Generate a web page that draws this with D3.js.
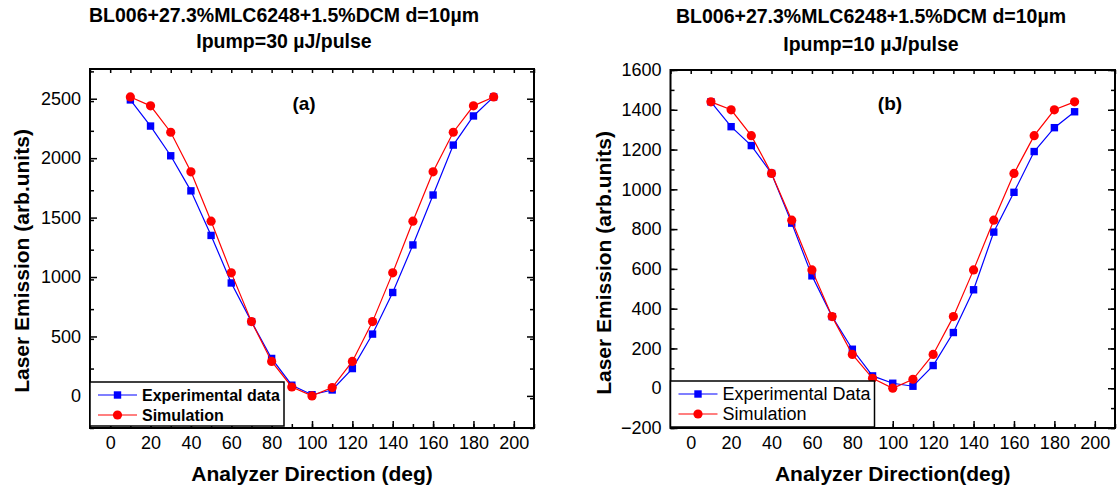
<!DOCTYPE html>
<html>
<head>
<meta charset="utf-8">
<script src="https://cdn.jsdelivr.net/npm/d3@7"></script>
<style>
  body { margin: 0; background: #fff; }
  svg { display: block; font-family: Arial, 'Liberation Sans', sans-serif; }
</style>
</head>
<body>
<div id="chart"></div>
<script>
// Data
const angles = [10, 20, 30, 40, 50, 60, 70, 80, 90, 100, 110, 120, 130, 140, 150, 160, 170, 180, 190];

// (a) Ipump = 30 uJ/pulse
const expA = [2490, 2270, 2020, 1725, 1350, 950, 625, 315, 90, 10, 50, 230, 520, 870, 1270, 1690, 2110, 2355, 2515];
const simA = [2515, 2440, 2218, 1885, 1470, 1035, 625, 290, 75, 0, 70, 290, 625, 1035, 1470, 1885, 2218, 2440, 2515];

// (b) Ipump = 10 uJ/pulse
const expB = [1440, 1315, 1220, 1080, 830, 565, 360, 196, 62, 25, 10, 114, 280, 495, 785, 985, 1190, 1310, 1390];
const simB = [1440, 1400, 1270, 1080, 845, 595, 360, 170, 50, 0, 45, 170, 360, 595, 845, 1080, 1270, 1400, 1440];

const xTicks = [0, 20, 40, 60, 80, 100, 120, 140, 160, 180, 200];
const yTicksA = [0, 500, 1000, 1500, 2000, 2500];
const yTicksB = [-200, 0, 200, 400, 600, 800, 1000, 1200, 1400, 1600];

const width = 1119;
const height = 496;

const svg = d3.select('#chart')
    .append('svg')
    .attr('width', width)
    .attr('height', height);

// Draw one panel
function drawPanel(cfg) {
    const x = d3.scaleLinear().domain([-10, 210]).range([cfg.left, cfg.right]);
    const y = d3.scaleLinear().domain(cfg.yDomain).range([cfg.bottom, cfg.top]);

    const g = svg.append('g');

    // minor ticks, inward on all four sides
    const xMinor = d3.range(-10, 211, 10);
    const yMinor = d3.range(cfg.yDomain[0], cfg.yDomain[1] + 1, cfg.yMinorStep)
        .filter(v => v >= cfg.yDomain[0] && v <= cfg.yDomain[1]);

    g.append('g')
        .attr('transform', `translate(0,${cfg.bottom})`)
        .call(d3.axisBottom(x).tickValues(xMinor).tickSizeInner(-4).tickSizeOuter(0).tickFormat(''))
        .call(a => a.select('.domain').remove());
    g.append('g')
        .attr('transform', `translate(0,${cfg.top})`)
        .call(d3.axisTop(x).tickValues(xMinor).tickSizeInner(-4).tickSizeOuter(0).tickFormat(''))
        .call(a => a.select('.domain').remove());
    g.append('g')
        .attr('transform', `translate(${cfg.left},0)`)
        .call(d3.axisLeft(y).tickValues(yMinor).tickSizeInner(-4).tickSizeOuter(0).tickFormat(''))
        .call(a => a.select('.domain').remove());
    g.append('g')
        .attr('transform', `translate(${cfg.right},0)`)
        .call(d3.axisRight(y).tickValues(yMinor).tickSizeInner(-4).tickSizeOuter(0).tickFormat(''))
        .call(a => a.select('.domain').remove());

    // major ticks with labels
    g.append('g')
        .attr('transform', `translate(0,${cfg.bottom})`)
        .call(d3.axisBottom(x).tickValues(xTicks).tickSizeInner(-7).tickSizeOuter(0).tickPadding(8).tickFormat(d3.format('d')))
        .call(a => a.select('.domain').remove())
        .selectAll('text')
        .attr('font-size', 18)
        .attr('font-family', 'Arial, Liberation Sans, sans-serif')
        .attr('fill', '#000');
    g.append('g')
        .attr('transform', `translate(${cfg.left},0)`)
        .call(d3.axisLeft(y).tickValues(cfg.yTicks).tickSizeInner(-7).tickSizeOuter(0).tickPadding(9).tickFormat(d3.format('d')))
        .call(a => a.select('.domain').remove())
        .selectAll('text')
        .attr('font-size', 18)
        .attr('font-family', 'Arial, Liberation Sans, sans-serif')
        .attr('fill', '#000');
    g.append('g')
        .attr('transform', `translate(${cfg.right},0)`)
        .call(d3.axisRight(y).tickValues(cfg.yTicks).tickSizeInner(-7).tickSizeOuter(0).tickFormat(''))
        .call(a => a.select('.domain').remove());
    g.selectAll('.tick line').attr('stroke', '#000').attr('stroke-width', 1.5);

    // frame
    g.append('rect')
        .attr('x', cfg.left)
        .attr('y', cfg.top)
        .attr('width', cfg.right - cfg.left)
        .attr('height', cfg.bottom - cfg.top)
        .attr('fill', 'none')
        .attr('stroke', '#000')
        .attr('stroke-width', 2);

    const line = d3.line().x((d, i) => x(angles[i])).y(d => y(d));

    // experimental data
    g.append('path')
        .datum(cfg.exp)
        .attr('d', line)
        .attr('fill', 'none')
        .attr('stroke', '#0000ff')
        .attr('stroke-width', 1.2);
    g.selectAll('.sq')
        .data(cfg.exp)
        .enter()
        .append('rect')
        .attr('x', (d, i) => x(angles[i]) - 3.7)
        .attr('y', d => y(d) - 3.7)
        .attr('width', 7.4)
        .attr('height', 7.4)
        .attr('fill', '#0000ff');

    // simulation
    g.append('path')
        .datum(cfg.sim)
        .attr('d', line)
        .attr('fill', 'none')
        .attr('stroke', '#ff0000')
        .attr('stroke-width', 1.2);
    g.selectAll('.ci')
        .data(cfg.sim)
        .enter()
        .append('circle')
        .attr('cx', (d, i) => x(angles[i]))
        .attr('cy', d => y(d))
        .attr('r', 4.6)
        .attr('fill', '#ff0000');

    // panel letter
    g.append('text')
        .attr('x', cfg.letterX)
        .attr('y', 110)
        .attr('text-anchor', 'middle')
        .attr('font-size', 19)
        .attr('font-weight', 'bold')
        .text(cfg.letter);

    // legend
    const lg = g.append('g');
    lg.append('rect')
        .attr('x', cfg.left)
        .attr('y', cfg.legend.y0)
        .attr('width', cfg.legend.w)
        .attr('height', cfg.legend.y1 - cfg.legend.y0)
        .attr('fill', '#fff')
        .attr('stroke', '#000')
        .attr('stroke-width', 1.5);
    const rows = [
        {label: cfg.legend.labels[0], color: '#0000ff', shape: 'sq', yy: cfg.legend.y0 + 13},
        {label: cfg.legend.labels[1], color: '#ff0000', shape: 'ci', yy: cfg.legend.y0 + 33}
    ];
    rows.forEach(r => {
        lg.append('line')
            .attr('x1', cfg.left + 8).attr('x2', cfg.left + 47)
            .attr('y1', r.yy).attr('y2', r.yy)
            .attr('stroke', r.color).attr('stroke-width', 1.2);
        if (r.shape === 'sq') {
            lg.append('rect')
                .attr('x', cfg.left + 27.5 - 3.7).attr('y', r.yy - 3.7)
                .attr('width', 7.4).attr('height', 7.4)
                .attr('fill', r.color);
        } else {
            lg.append('circle')
                .attr('cx', cfg.left + 27.5).attr('cy', r.yy).attr('r', 4.6)
                .attr('fill', r.color);
        }
        lg.append('text')
            .attr('x', cfg.left + 52)
            .attr('y', r.yy + 6)
            .attr('font-size', cfg.legend.fontSize)
            .attr('font-weight', cfg.legend.weight)
            .text(r.label);
    });

    // titles
    cfg.title.forEach((t, i) => {
        g.append('text')
            .attr('x', cfg.titleX)
            .attr('y', cfg.titleY[i])
            .attr('text-anchor', 'middle')
            .attr('font-size', 19.5)
            .attr('font-weight', 'bold')
            .text(t);
    });

    // axis labels
    g.append('text')
        .attr('x', (cfg.left + cfg.right) / 2)
        .attr('y', 481)
        .attr('text-anchor', 'middle')
        .attr('font-size', 21)
        .attr('font-weight', 'bold')
        .text(cfg.xLabel);
    g.append('text')
        .attr('transform', `translate(${cfg.yLabelX},${cfg.yLabelY}) rotate(-90)`)
        .attr('text-anchor', 'middle')
        .attr('font-size', 21)
        .attr('font-weight', 'bold')
        .text('Laser Emission (arb.units)');
}

drawPanel({
    left: 90, right: 534, top: 69, bottom: 428,
    yDomain: [-270, 2750], yMinorStep: 250, yTicks: yTicksA,
    exp: expA, sim: simA,
    letter: '(a)', letterX: 304,
    legend: {y0: 382, y1: 426, w: 194, labels: ['Experimental data', 'Simulation'], fontSize: 16, weight: 'bold'},
    title: ['BL006+27.3%MLC6248+1.5%DCM d=10\u00b5m', 'Ipump=30 \u00b5J/pulse'],
    titleX: 284, titleY: [22, 48],
    xLabel: 'Analyzer Direction (deg)',
    yLabelX: 29, yLabelY: 261
});

drawPanel({
    left: 670.5, right: 1115, top: 70, bottom: 428,
    yDomain: [-200, 1600], yMinorStep: 100, yTicks: yTicksB,
    exp: expB, sim: simB,
    letter: '(b)', letterX: 890,
    legend: {y0: 381, y1: 427, w: 204, labels: ['Experimental Data', 'Simulation'], fontSize: 18, weight: 'normal'},
    title: ['BL006+27.3%MLC6248+1.5%DCM d=10\u00b5m', 'Ipump=10 \u00b5J/pulse'],
    titleX: 871, titleY: [23, 51],
    xLabel: 'Analyzer Direction(deg)',
    yLabelX: 611, yLabelY: 263
});
</script>
</body>
</html>
